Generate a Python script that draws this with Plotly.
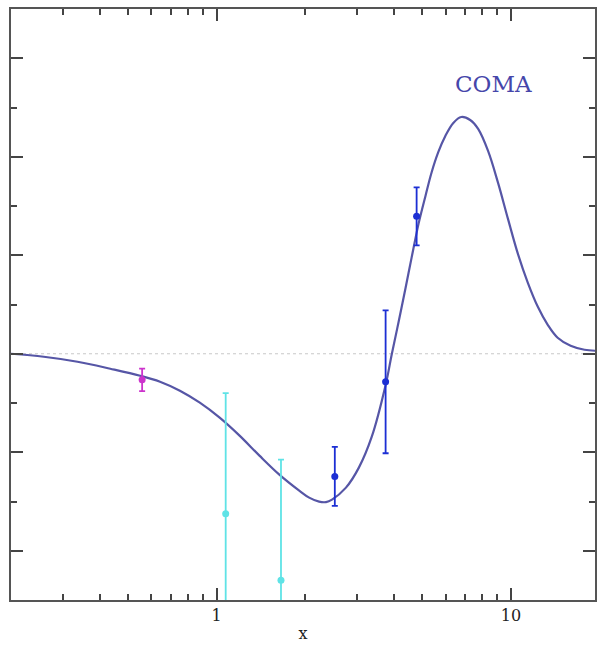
import plotly.graph_objects as go

# Model curve
curve_x = [0.200, 0.2584, 0.3365, 0.4350, 0.5494, 0.6418, 0.7499, 0.8763, 1.0236, 1.1960,
           1.3973, 1.6327, 1.9077, 2.062, 2.2284, 2.353, 2.4651, 2.7497, 3.0420, 3.3651,
           3.7523, 3.9320, 4.1522, 4.3849, 4.5943, 4.8520, 5.1230, 5.3675, 5.6662, 5.9840,
           6.3700, 6.7793, 7.2678, 7.7358, 8.3600, 9.0400, 9.7700, 10.560, 11.414, 12.340,
           13.335, 14.411, 15.950, 17.783, 19.380]
curve_y = [0.0, -0.061, -0.162, -0.304, -0.446, -0.568, -0.751, -0.994, -1.298, -1.663,
           -2.069, -2.454, -2.779, -2.921, -3.002, -3.012, -2.961, -2.718, -2.312, -1.684,
           -0.629, -0.020, 0.649, 1.339, 1.947, 2.637, 3.205, 3.671, 4.097, 4.422,
           4.686, 4.807, 4.746, 4.564, 4.118, 3.469, 2.738, 2.028, 1.440, 0.953,
           0.588, 0.325, 0.162, 0.081, 0.061]

# Data points
mag_x = [0.558]
mag_y = [-0.53]
mag_err = [0.23]

cyan_x = [1.073, 1.654]
cyan_y = [-3.25, -4.6]
cyan_err = [2.45, 2.45]

blue_x = [2.52, 3.75, 4.78]
blue_y = [-2.49, -0.57, 2.79]
blue_err = [0.6, 1.45, 0.59]

x_ticks = [1, 10]
x_tick_labels = ["1", "10"]

fig = go.Figure()

fig.add_trace(go.Scatter(x=[0.2, 20], y=[0, 0], mode="lines",
                         line=dict(color="#c8c8c8", width=1, dash="dot"),
                         hoverinfo="skip", showlegend=False))

fig.add_trace(go.Scatter(x=curve_x, y=curve_y, mode="lines",
                         line=dict(color="#5656a6", width=2.2, shape="spline", smoothing=1.0),
                         showlegend=False))

def pts(x, y, e, color):
    fig.add_trace(go.Scatter(x=x, y=y, mode="markers",
                             marker=dict(color=color, size=7),
                             error_y=dict(type="data", array=e, color=color, thickness=1.8, width=3),
                             showlegend=False))

pts(mag_x, mag_y, mag_err, "#cc33cc")
pts(cyan_x, cyan_y, cyan_err, "#5fe3e6")
pts(blue_x, blue_y, blue_err, "#1c2fd4")

fig.add_annotation(x=0.9395, y=5.48, xref="x", yref="y", text="COMA", showarrow=False,
                   font=dict(family="DejaVu Serif", size=23, color="#4646aa"))

axis_common = dict(showgrid=False, zeroline=False, showline=True, linecolor="#555555",
                   linewidth=1.5, mirror="ticks", ticks="inside", tickcolor="#444444",
                   tickwidth=1.5)

fig.update_xaxes(type="log", range=[-0.69897, 1.2856],
                 tickvals=x_ticks, ticktext=x_tick_labels, ticklen=12,
                 minor=dict(ticks="inside", ticklen=6, dtick="D1", tickcolor="#444444", tickwidth=1.5),
                 tickfont=dict(family="DejaVu Serif", size=16, color="#222222"),
                 title=dict(text="x", font=dict(family="DejaVu Serif", size=16, color="#222222"), standoff=4),
                 **axis_common)
fig.update_yaxes(range=[-5, 7], dtick=2, tick0=0, ticklen=12, showticklabels=False,
                 minor=dict(ticks="inside", ticklen=6, dtick=1, tickcolor="#444444", tickwidth=1.5),
                 **axis_common)

fig.update_layout(width=599, height=650, margin=dict(l=11, r=2, t=9, b=50),
                  plot_bgcolor="white", paper_bgcolor="white")

fig.write_html("out.html")
